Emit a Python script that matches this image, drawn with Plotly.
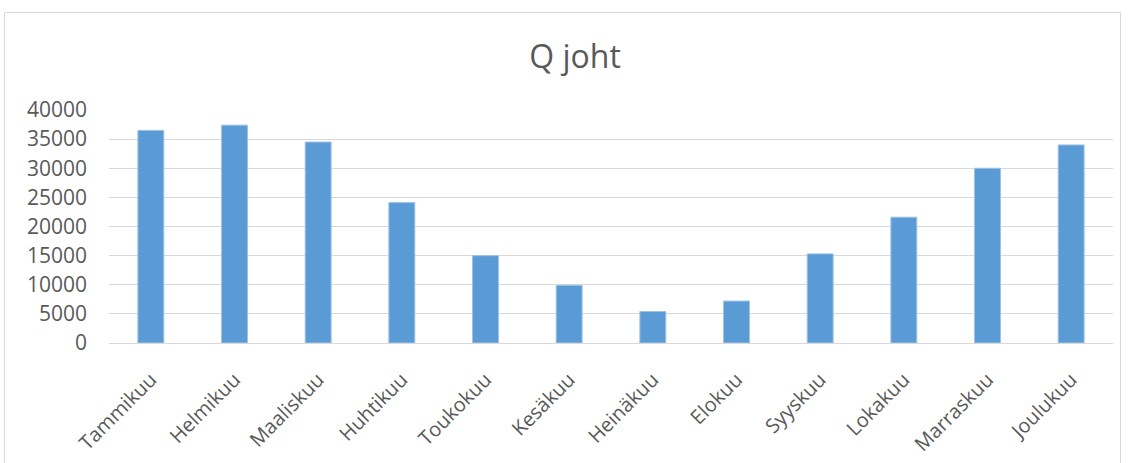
import plotly.graph_objects as go

months = ["Tammikuu", "Helmikuu", "Maaliskuu", "Huhtikuu", "Toukokuu", "Kesäkuu",
          "Heinäkuu", "Elokuu", "Syyskuu", "Lokakuu", "Marraskuu", "Joulukuu"]
values = [36500, 37400, 34500, 24100, 15000, 9900, 5400, 7200, 15300, 21600, 30000, 34000]
y_ticks = [0, 5000, 10000, 15000, 20000, 25000, 30000, 35000, 40000]

L, R, T, B = 109, 17, 110, 120
W, H = 1130, 463
pw, ph = W - L - R, H - T - B

fig = go.Figure(go.Bar(
    x=months, y=values,
    marker=dict(color="#5B9BD5", line=dict(color="#9DC3E6", width=1)),
))

def px_to_paper_x(px):
    return (px - L) / pw

def px_to_paper_y(py):
    return (H - B - py) / ph

fig.update_layout(
    width=W, height=H,
    margin=dict(l=L, r=R, t=T, b=B, autoexpand=False),
    paper_bgcolor="white", plot_bgcolor="white",
    bargap=0.69,
    showlegend=False,
    font=dict(family="Open Sans, Lato, sans-serif", color="#595959"),
    title=dict(text="Q joht", x=575 / W, xref="container", y=1 - 57 / H, yref="container",
               xanchor="center", yanchor="middle",
               font=dict(size=32, color="#595959")),
    xaxis=dict(tickangle=-45, tickfont=dict(size=20, color="#595959"),
               showgrid=False, showline=True, linecolor="#D9D9D9", linewidth=1,
               ticks="", ticklen=0, ticklabelstandoff=16, automargin=False),
    yaxis=dict(range=[0, 40000], tickvals=y_ticks, ticktext=[str(v) for v in y_ticks],
               tickfont=dict(size=21, color="#595959"),
               showgrid=True, gridcolor="#D9D9D9", gridwidth=1,
               zeroline=False, showline=False, ticks="", ticklabelstandoff=21,
               automargin=False),
    shapes=[dict(type="rect", xref="paper", yref="paper",
                 x0=px_to_paper_x(4.5), x1=px_to_paper_x(1120.5),
                 y0=px_to_paper_y(470), y1=px_to_paper_y(12.5),
                 line=dict(color="#D9D9D9", width=1), fillcolor="rgba(0,0,0,0)",
                 layer="below")],
)

fig.write_html("out.html")
